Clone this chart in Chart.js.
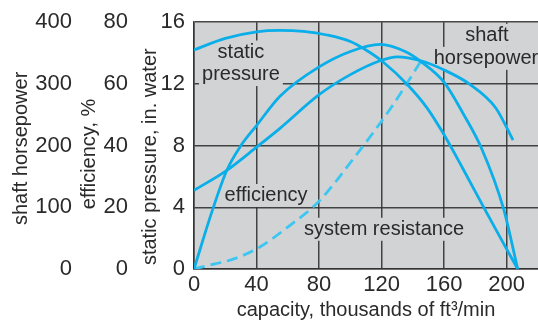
<!DOCTYPE html>
<html>
<head>
<meta charset="utf-8">
<script src="https://cdn.jsdelivr.net/npm/chart.js@4.4.0/dist/chart.umd.min.js"></script>
<style>
  html, body { margin: 0; padding: 0; background: #fff; }
  #wrap { width: 538px; height: 320px; position: relative; }
</style>
</head>
<body>
<div id="wrap"><canvas id="fanChart"></canvas></div>
<script>
// Tick labels
const capacityTicks = [0, 40, 80, 120, 160, 200];
const pressureTicks = [0, 4, 8, 12, 16];
const efficiencyTicks = [0, 20, 40, 60, 80];
const horsepowerTicks = [0, 100, 200, 300, 400];

// static pressure, in. water
const pressureCapacity = [0, 20, 40, 55, 70, 85, 100, 110, 120, 137, 149, 159, 172, 186, 198, 207];
const pressureValues = [14.2, 14.95, 15.38, 15.47, 15.4, 15.17, 14.75, 14.2, 13.5, 11.9, 10.45, 8.86, 6.5, 3.87, 1.65, 0];

// efficiency, %
const efficiencyCapacity = [0, 12, 21, 30, 40, 55, 80, 100, 119, 135, 145, 160, 172, 184, 198, 207];
const efficiencyValues = [0, 19.4, 32, 40, 46.5, 56, 65.5, 70.5, 72.8, 70.5, 67.3, 60.5, 50.5, 39, 19.5, 0];

// shaft horsepower
const horsepowerCapacity = [0, 21, 40, 55, 80, 100, 119, 130, 145, 160, 176, 193, 204];
const horsepowerValues = [127.5, 160, 197.5, 228, 282.5, 315, 337.5, 343.8, 337.5, 322.5, 300, 261, 209];

// system resistance, in. water
const systemCapacity = [0, 8, 25, 40, 61, 80, 102, 126, 145];
const systemValues = [0, 0.2, 0.64, 1.3, 2.8, 4.4, 7.16, 10.45, 13.45];

const toPoints = (xs, ys) => xs.map((x, i) => ({ x: x, y: ys[i] }));

const PLOT_BG = '#d2d3d5';
const GRID = 'rgba(50,50,50,0.9)';
const BLUE = '#0aaee9';
const LIGHT_BLUE = '#3cc6f2';
const TEXT = '#2a2a2a';

Chart.defaults.font.family = "'Liberation Sans', Arial, sans-serif";
Chart.defaults.color = TEXT;

// gray plot area
const plotBackground = {
    id: 'plotBackground',
    beforeDraw(chart) {
        const { ctx, chartArea: a } = chart;
        ctx.save();
        ctx.fillStyle = PLOT_BG;
        ctx.fillRect(a.left, a.top, a.right - a.left, a.bottom - a.top);
        ctx.restore();
    }
};

// curve labels (position in capacity / in. water units, text baseline)
const curveLabels = [
    { text: 'static', x: 30, y: 13.71 },
    { text: 'pressure', x: 30, y: 12.25 },
    { text: 'shaft', x: 187.3, y: 14.79 },
    { text: 'horsepower', x: 186.7, y: 13.3 },
    { text: 'efficiency', x: 46.1, y: 4.41 },
    { text: 'system resistance', x: 121.5, y: 2.22 }
];

const labelPlugin = {
    id: 'curveLabels',
    beforeDatasetsDraw(chart) {
        // boxes hide the grid lines behind the text
        const { ctx, scales } = chart;
        ctx.save();
        ctx.font = "20px 'Liberation Sans', Arial, sans-serif";
        ctx.fillStyle = PLOT_BG;
        curveLabels.forEach(l => {
            const px = scales.x.getPixelForValue(l.x);
            const py = scales.y.getPixelForValue(l.y);
            const w = ctx.measureText(l.text).width;
            ctx.fillRect(px - w / 2 - 3, py - 17, w + 6, 23);
        });
        ctx.restore();
    },
    afterDatasetsDraw(chart) {
        const { ctx, scales } = chart;
        ctx.save();
        ctx.font = "20px 'Liberation Sans', Arial, sans-serif";
        ctx.fillStyle = TEXT;
        ctx.textAlign = 'center';
        ctx.textBaseline = 'alphabetic';
        curveLabels.forEach(l => {
            ctx.fillText(l.text, scales.x.getPixelForValue(l.x), scales.y.getPixelForValue(l.y));
        });
        ctx.restore();
    }
};

const fixedTicks = (values) => (scale) => {
    scale.ticks = values.map(v => ({ value: v }));
};

const curveStyle = {
    borderColor: BLUE,
    borderWidth: 2.8,
    pointRadius: 0,
    fill: false,
    cubicInterpolationMode: 'monotone'
};

new Chart(document.getElementById('fanChart'), {
    type: 'line',
    data: {
        datasets: [
            { ...curveStyle, label: 'static pressure', yAxisID: 'y', data: toPoints(pressureCapacity, pressureValues) },
            { ...curveStyle, label: 'efficiency', yAxisID: 'yEff', data: toPoints(efficiencyCapacity, efficiencyValues) },
            { ...curveStyle, label: 'shaft horsepower', yAxisID: 'yHp', data: toPoints(horsepowerCapacity, horsepowerValues) },
            {
                ...curveStyle,
                label: 'system resistance',
                yAxisID: 'y',
                borderColor: LIGHT_BLUE,
                borderDash: [11, 6],
                data: toPoints(systemCapacity, systemValues)
            }
        ]
    },
    options: {
        responsive: true,
        maintainAspectRatio: false,
        animation: false,
        layout: { padding: { top: 17, right: 0, left: 0, bottom: 0 } },
        plugins: {
            legend: { display: false },
            tooltip: { enabled: false }
        },
        scales: {
            x: {
                type: 'linear',
                min: 0,
                max: 220,
                afterBuildTicks: fixedTicks(capacityTicks),
                afterFit: (s) => { s.height = 51; },
                grid: { color: GRID, lineWidth: 1.5, drawTicks: false },
                border: { color: GRID, width: 1.5 },
                ticks: { font: { size: 22 }, padding: 3, maxRotation: 0 },
                title: {
                    display: true,
                    text: 'capacity, thousands of ft³/min',
                    font: { size: 20, lineHeight: 1.0 },
                    padding: { top: 0, bottom: 0 }
                }
            },
            y: {
                position: 'left',
                weight: 0,
                min: 0,
                max: 16,
                afterBuildTicks: fixedTicks(pressureTicks),
                afterFit: (s) => { s.width = 64; },
                grid: { color: GRID, lineWidth: 1.5, drawTicks: false },
                border: { color: GRID, width: 1.5 },
                ticks: { font: { size: 22 }, padding: 9 },
                title: {
                    display: true,
                    // trailing spaces nudge the rotated title down like the original
                    text: 'static pressure, in. water\u00a0\u00a0\u00a0\u00a0',
                    font: { size: 20, lineHeight: 1.2 },
                    padding: { top: 8, bottom: 0 }
                }
            },
            yEff: {
                position: 'left',
                weight: 1,
                min: 0,
                max: 80,
                afterBuildTicks: fixedTicks(efficiencyTicks),
                afterFit: (s) => { s.width = 55; },
                grid: { display: false, drawTicks: false },
                border: { display: false },
                ticks: { font: { size: 22 }, padding: 2 },
                title: {
                    display: true,
                    text: 'efficiency, %\u00a0\u00a0\u00a0',
                    font: { size: 20, lineHeight: 1.2 },
                    padding: { top: 2, bottom: 0 }
                }
            },
            yHp: {
                position: 'left',
                weight: 2,
                min: 0,
                max: 400,
                afterBuildTicks: fixedTicks(horsepowerTicks),
                afterFit: (s) => { s.width = 75; },
                grid: { display: false, drawTicks: false },
                border: { display: false },
                ticks: { font: { size: 22 }, padding: 3 },
                title: {
                    display: true,
                    text: 'shaft horsepower\u00a0',
                    font: { size: 20, lineHeight: 1.2 },
                    padding: { top: 9, bottom: 0 }
                }
            }
        }
    },
    plugins: [plotBackground, labelPlugin]
});
</script>
</body>
</html>
